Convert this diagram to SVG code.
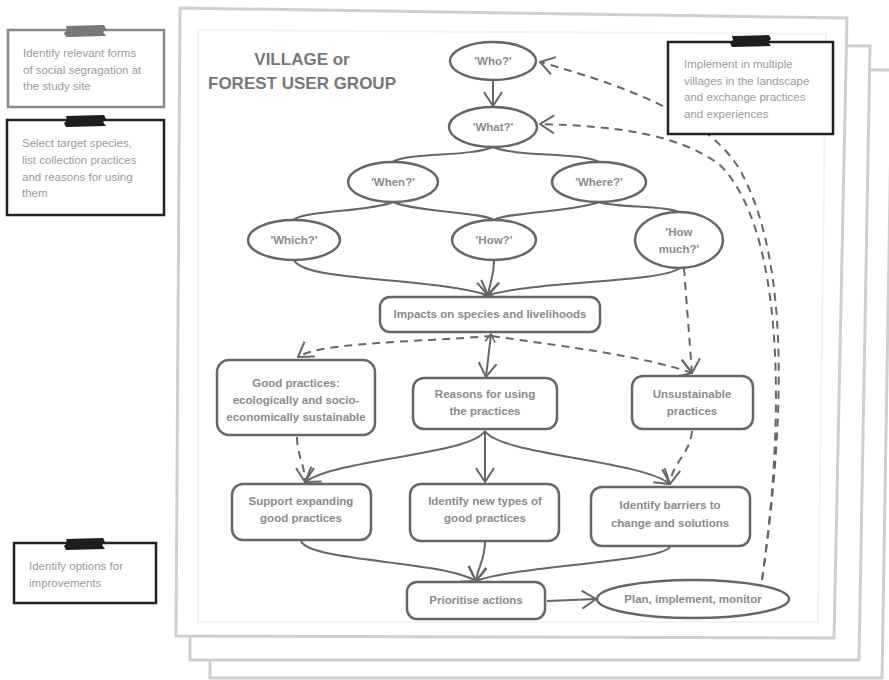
<svg xmlns="http://www.w3.org/2000/svg" width="889" height="680" viewBox="0 0 889 680">
<defs>
<marker id="ah" viewBox="0 0 16 20" refX="15" refY="10" markerWidth="16" markerHeight="20" markerUnits="userSpaceOnUse" orient="auto">
<path d="M1,1 L15,10 L1,19" fill="none" stroke="#666" stroke-width="2"/>
</marker>
<marker id="ahs" viewBox="0 0 10 12" refX="9" refY="6" markerWidth="10" markerHeight="12" markerUnits="userSpaceOnUse" orient="auto-start-reverse">
<path d="M1,1 L9,6 L1,11" fill="none" stroke="#666" stroke-width="1.6"/>
</marker>
<style>
.sheet{fill:#fff;stroke:#cfcfcf;stroke-width:3}
.node{fill:#fff;stroke:#666;stroke-width:2.5}
.nt{font-family:"Liberation Sans",Arial,sans-serif;font-weight:bold;font-size:11.5px;fill:#8a8a8a;text-anchor:middle}
.title{font-family:"Liberation Sans",Arial,sans-serif;font-weight:bold;font-size:17px;fill:#777;text-anchor:middle}
.note{fill:#fff;stroke:#222;stroke-width:2.5}
.note.g{stroke:#888}
.tape{fill:#1e1e1e}
.tape.g{fill:#777}
.ntx{font-family:"Liberation Sans",Arial,sans-serif;font-size:11.5px;fill:#9a9a9a}
.c{fill:none;stroke:#666;stroke-width:2}
.d{stroke-dasharray:8 6}
.a{marker-end:url(#ah)}
</style>
</defs>

<g id="sheets">
<path class="sheet" d="M210,65 L892,70 L882,678 L210,678 Z"/>
<path class="sheet" d="M190,40 L870,46 L859,660 L190,660 Z"/>
<path class="sheet" d="M180,8 L847,18 L834,638 L176,636 Z"/>
<path d="M198,30 L826,34 L818,622 L198,622 Z" fill="none" stroke="#f3f3f3" stroke-width="2"/>
</g>

<g id="title">
<text class="title" x="302" y="65">VILLAGE or</text>
<text class="title" x="302" y="89">FOREST USER GROUP</text>
</g>

<g id="connectors">
<path class="c a" d="M493,81 L493,106"/>
<path class="c" d="M493,147 C470,157 410,152 392,162"/>
<path class="c" d="M493,147 C515,157 580,152 599,162"/>
<path class="c" d="M393,202 C370,212 305,210 293,220"/>
<path class="c" d="M393,202 C415,212 482,212 494,220"/>
<path class="c" d="M599,202 C575,212 506,212 494,220"/>
<path class="c" d="M599,202 C615,208 665,205 679,212"/>
<path class="c a" d="M294,260 C305,282 420,276 488,295"/>
<path class="c a" d="M494,260 C494,276 490,282 488,295"/>
<path class="c a" d="M680,268 C660,283 545,280 488,295"/>
<path class="c d a" d="M684,268 L692,373"/>
<path class="c d a" d="M492,336 C420,342 320,342 298,357"/>
<path class="c d a" d="M492,336 C560,346 640,355 692,373"/>
<path class="c a" d="M491,334 L486,377" style="marker-start:url(#ahs)"/>
<path class="c d a" d="M297,437 C297,455 305,465 305,482"/>
<path class="c a" d="M485,431 C470,455 340,458 305,482"/>
<path class="c a" d="M485,431 L485,482"/>
<path class="c a" d="M485,431 C500,455 640,460 670,484"/>
<path class="c d a" d="M692,431 C690,455 672,462 670,484"/>
<path class="c a" d="M301,541 C310,562 440,560 476,581"/>
<path class="c a" d="M485,542 C485,560 478,566 476,581"/>
<path class="c a" d="M670,547 C660,562 520,565 476,581"/>
<path class="c a" d="M547,601 L596,599"/>
<path class="c d a" d="M762,580 C785,420 790,260 740,170 C710,120 640,90 540,62"/>
<path class="c d a" d="M762,580 C785,420 785,230 720,165 C680,135 620,126 540,124"/>
</g>

<g id="who"><ellipse class="node" cx="493" cy="61" rx="43" ry="19"/><text class="nt" x="493" y="65">'Who?'</text></g>
<g id="what"><ellipse class="node" cx="493" cy="127" rx="44" ry="20"/><text class="nt" x="493" y="131">'What?'</text></g>
<g id="when"><ellipse class="node" cx="393" cy="182" rx="45" ry="20"/><text class="nt" x="393" y="186">'When?'</text></g>
<g id="where"><ellipse class="node" cx="599" cy="182" rx="47" ry="20"/><text class="nt" x="599" y="186">'Where?'</text></g>
<g id="which"><ellipse class="node" cx="294" cy="240" rx="46" ry="20"/><text class="nt" x="294" y="244">'Which?'</text></g>
<g id="how"><ellipse class="node" cx="494" cy="240" rx="42" ry="20"/><text class="nt" x="494" y="244">'How?'</text></g>
<g id="howmuch"><ellipse class="node" cx="679" cy="240" rx="44" ry="28"/><text class="nt" x="679" y="236">'How</text><text class="nt" x="679" y="253">much?'</text></g>

<g id="impacts"><rect class="node" x="380" y="297" width="220" height="35" rx="10"/><text class="nt" x="490" y="318">Impacts on species and livelihoods</text></g>
<g id="good"><rect class="node" x="217" y="360" width="158" height="75" rx="12"/><text class="nt" x="296" y="387">Good practices:</text><text class="nt" x="296" y="404">ecologically and socio-</text><text class="nt" x="296" y="421">economically sustainable</text></g>
<g id="reasons"><rect class="node" x="413" y="378" width="144" height="51" rx="11"/><text class="nt" x="485" y="398">Reasons for using</text><text class="nt" x="485" y="415">the practices</text></g>
<g id="unsust"><rect class="node" x="632" y="376" width="121" height="53" rx="11"/><text class="nt" x="692" y="398">Unsustainable</text><text class="nt" x="692" y="415">practices</text></g>
<g id="support"><rect class="node" x="232" y="484" width="139" height="56" rx="11"/><text class="nt" x="301" y="505">Support expanding</text><text class="nt" x="301" y="522">good practices</text></g>
<g id="newtypes"><rect class="node" x="410" y="484" width="149" height="57" rx="11"/><text class="nt" x="485" y="505">Identify new types of</text><text class="nt" x="485" y="522">good practices</text></g>
<g id="barriers"><rect class="node" x="591" y="487" width="159" height="59" rx="11"/><text class="nt" x="670" y="509">Identify barriers to</text><text class="nt" x="670" y="527">change and solutions</text></g>
<g id="prioritise"><rect class="node" x="407" y="582" width="138" height="37" rx="10"/><text class="nt" x="476" y="604">Prioritise actions</text></g>
<g id="plan"><ellipse class="node" cx="693" cy="599" rx="96" ry="19"/><text class="nt" x="693" y="603">Plan, implement, monitor</text></g>

<g id="note1"><rect class="note g" x="8" y="30" width="156" height="77"/><path class="tape g" d="M66,26 L104,25 L106,29 L103,32 L106,36 L66,37 L64,33 L67,30 Z"/><text class="ntx" x="23" y="57">Identify relevant forms</text><text class="ntx" x="23" y="74">of social segragation at</text><text class="ntx" x="23" y="90">the study site</text></g>
<g id="note2"><rect class="note" x="7" y="120" width="157" height="95"/><path class="tape" d="M66,116 L104,115 L106,119 L103,122 L106,126 L66,127 L64,123 L67,120 Z"/><text class="ntx" x="22" y="147">Select target species,</text><text class="ntx" x="22" y="164">list collection practices</text><text class="ntx" x="22" y="181">and reasons for using</text><text class="ntx" x="22" y="197">them</text></g>
<g id="note3"><rect class="note" x="14" y="543" width="142" height="60"/><path class="tape" d="M66,539 L103,538 L105,542 L102,545 L105,549 L66,550 L64,546 L67,543 Z"/><text class="ntx" x="29" y="570">Identify options for</text><text class="ntx" x="29" y="587">improvements</text></g>
<g id="note4"><rect class="note" x="668" y="42" width="165" height="92"/><path class="tape" d="M732,36 L769,35 L771,39 L768,42 L771,46 L732,47 L730,43 L733,40 Z"/><text class="ntx" x="684" y="68">Implement in multiple</text><text class="ntx" x="684" y="85">villages in the landscape</text><text class="ntx" x="684" y="101">and exchange practices</text><text class="ntx" x="684" y="118">and experiences</text></g>
</svg>
